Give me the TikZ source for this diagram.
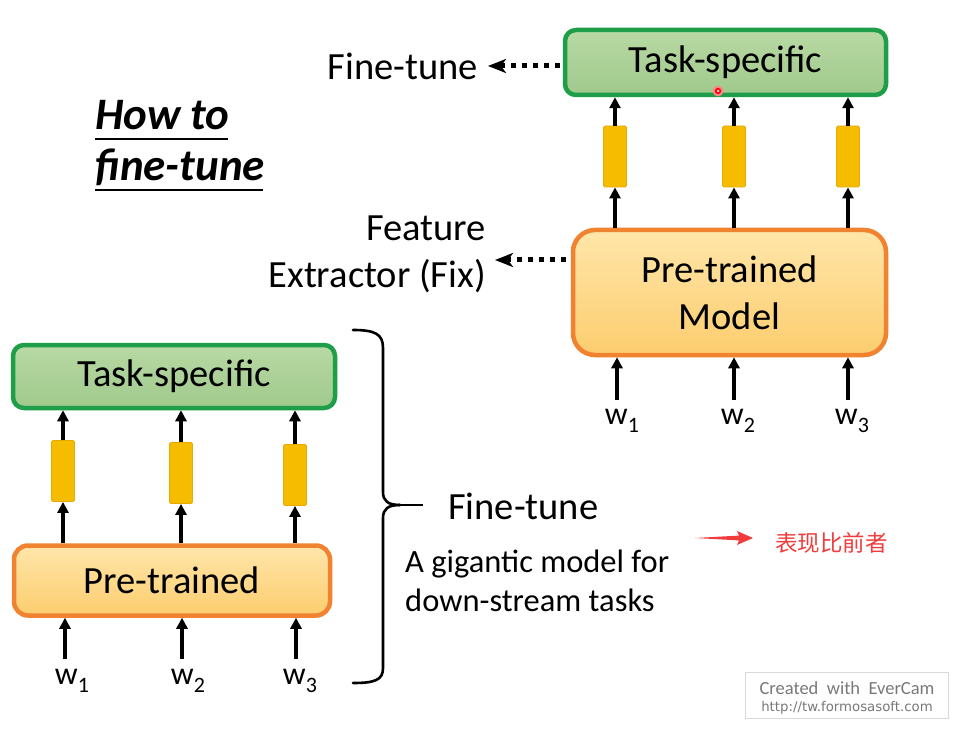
\documentclass[tikz,border=0pt]{standalone}
\usepackage{fontspec}
\setmainfont{Carlito}
\newfontfamily\cjk{Noto Sans CJK SC}
\newfontfamily\wmfont{DejaVu Sans}
\usetikzlibrary{arrows.meta}
\definecolor{gborder}{RGB}{30,158,72}
\definecolor{gtop}{RGB}{184,217,164}
\definecolor{gbot}{RGB}{160,201,140}
\definecolor{oborder}{RGB}{240,130,48}
\definecolor{otop}{RGB}{255,230,170}
\definecolor{obot}{RGB}{252,205,110}
\definecolor{barfill}{RGB}{246,188,0}
\definecolor{baredge}{RGB}{232,170,0}
\definecolor{annred}{RGB}{240,60,60}
\definecolor{wmgray}{RGB}{120,120,120}
\tikzset{
  taskbox/.style={draw=gborder, line width=4.5pt, rounded corners=11pt, top color=gtop, bottom color=gbot, inner sep=0pt, font=\fontsize{38.5}{47}\selectfont},
  prebox/.style={draw=oborder, line width=4.5pt, rounded corners=22pt, top color=otop, bottom color=obot, inner sep=0pt, align=center, font=\fontsize{38.5}{47}\selectfont},
  bar/.style={draw=baredge, line width=0.8pt, fill=barfill, rounded corners=1.5pt, minimum width=23pt, minimum height=61pt, inner sep=0pt},
  upar/.style={line width=3.6pt, -{Triangle[length=11pt,width=11pt]}},
  dotar/.style={line width=5pt, dash pattern=on 5pt off 6pt, -{Stealth[length=18pt,width=14pt,inset=5pt]}},
  lbl/.style={inner sep=0pt, font=\fontsize{38.5}{47}\selectfont},
  wlbl/.style={inner sep=0pt, font=\fontsize{32}{36}\selectfont},
}
\newcommand{\wsub}[1]{w\raisebox{-0.25em}{\fontsize{22}{24}\selectfont #1}}
\begin{document}
\begin{tikzpicture}[x=1pt,y=-1pt]
\useasboundingbox (0,0) rectangle (961,735);
\fill[white] (0,0) rectangle (961,735);

% ---------- title ----------
\node[anchor=base west, inner sep=0pt, font=\fontsize{45}{50}\selectfont\bfseries\itshape] (t1) at (95,130) {How to};
\node[anchor=base west, inner sep=0pt, font=\fontsize{45}{50}\selectfont\bfseries\itshape] (t2) at (95,181) {fine-tune};
\draw[line width=2pt] (95,139) -- (228,139);
\draw[line width=2pt] (95,190) -- (263,190);

% ---------- top right ----------
\node[taskbox, minimum width=321pt, minimum height=65pt] (ts1) at (725.5,62.5) {Task-specific};
\node[bar] (b11) at (615,156.5) {};
\node[bar] (b12) at (734,156.5) {};
\node[bar] (b13) at (848,156.5) {};
\node[prebox, minimum width=313pt, minimum height=125pt] (pm1) at (729.5,292.5) {Pre-trained\\Model};
\foreach \b in {b11,b12,b13}{
  \draw[upar] (\b.north) -- (\b.north |- ts1.south);
  \draw[upar] (\b.south |- pm1.north) -- (\b.south);
}
\node[wlbl] (w11) at (622,421) {\wsub{1}};
\node[wlbl] (w12) at (738,421) {\wsub{2}};
\node[wlbl] (w13) at (852,421) {\wsub{3}};
\coordinate (a11) at (617,400);
\coordinate (a12) at (734,400);
\coordinate (a13) at (848,400);
\draw[upar] (a11) -- (a11 |- pm1.south);
\draw[upar] (a12) -- (a12 |- pm1.south);
\draw[upar] (a13) -- (a13 |- pm1.south);

\node[lbl, anchor=east] (ft1) at (478,66) {Fine-tune};
\coordinate (d1s) at (560,66);
\coordinate (d1e) at (488,66);
\draw[dotar] (d1s) -- (d1e);

\node[lbl, anchor=east, align=right] (fe) at (486,254) {Feature\\Extractor (Fix)};
\coordinate (d2s) at (566,260);
\coordinate (d2e) at (495,260);
\draw[dotar] (d2s) -- (d2e);

% cursor dot
\fill[annred!60] (718,91) circle (5.5pt);
\fill[red] (718,91) circle (3.2pt);
\fill[white!80!red] (718,91) circle (1.5pt);

% ---------- bottom left ----------
\node[taskbox, minimum width=322pt, minimum height=63pt] (ts2) at (174,376.5) {Task-specific};
\node[bar] (b21) at (63,471) {};
\node[bar] (b22) at (181,473) {};
\node[bar] (b23) at (295,475) {};
\node[prebox, rounded corners=14pt, minimum width=316pt, minimum height=70pt] (pm2) at (172,580.5) {Pre-trained};
\foreach \b in {b21,b22,b23}{
  \draw[upar] (\b.north) -- (\b.north |- ts2.south);
  \draw[upar] (\b.south |- pm2.north) -- (\b.south);
}
\node[wlbl] (w21) at (72,681) {\wsub{1}};
\node[wlbl] (w22) at (188,681) {\wsub{2}};
\node[wlbl] (w23) at (300,681) {\wsub{3}};
\coordinate (a21) at (65,659);
\coordinate (a22) at (182,659);
\coordinate (a23) at (296,659);
\draw[upar] (a21) -- (a21 |- pm2.south);
\draw[upar] (a22) -- (a22 |- pm2.south);
\draw[upar] (a23) -- (a23 |- pm2.south);

% brace
\draw[line width=2.6pt, line cap=round]
  (353,330) .. controls (375,330) and (383,334) .. (383,348)
  -- (383,492) .. controls (383,501) and (388,505) .. (400,505);
\draw[line width=2.6pt, line cap=round]
  (400,505) .. controls (388,505) and (383,509) .. (383,518)
  -- (383,668) .. controls (383,680) and (375,683) .. (353,683);
\draw[line width=2.6pt] (398,505) -- (423,505);

\node[lbl, anchor=west] (ft2) at (448,506) {Fine-tune};
\node[inner sep=0pt, anchor=west, align=left, font=\fontsize{32.5}{39}\selectfont] (gm) at (405,581) {A gigantic model for\\down-stream tasks};

% red annotation
\coordinate (ra1) at (695,538);
\coordinate (ra2) at (753,538);
\fill[annred] (ra1) -- (739,535.6) -- (737,531) -- (ra2) -- (737,545) -- (739,540.4) -- cycle;
\node[inner sep=0pt, anchor=west, text=annred, font=\cjk\fontsize{22.5}{24}\selectfont] (cn) at (775,543) {表现比前者};

% watermark
\node[draw=black!15, line width=1pt, minimum width=203pt, minimum height=46pt, inner sep=0pt] (wm) at (847,695) {};
\node[inner sep=0pt, text=wmgray, font=\fontsize{18.5}{20}\selectfont] (wm1) at (847,688) {Created\ \ with\ \ EverCam};
\node[inner sep=0pt, text=wmgray, font=\wmfont\fontsize{13.3}{15}\selectfont] (wm2) at (847,708) {http://tw.formosasoft.com};
\end{tikzpicture}
\end{document}
